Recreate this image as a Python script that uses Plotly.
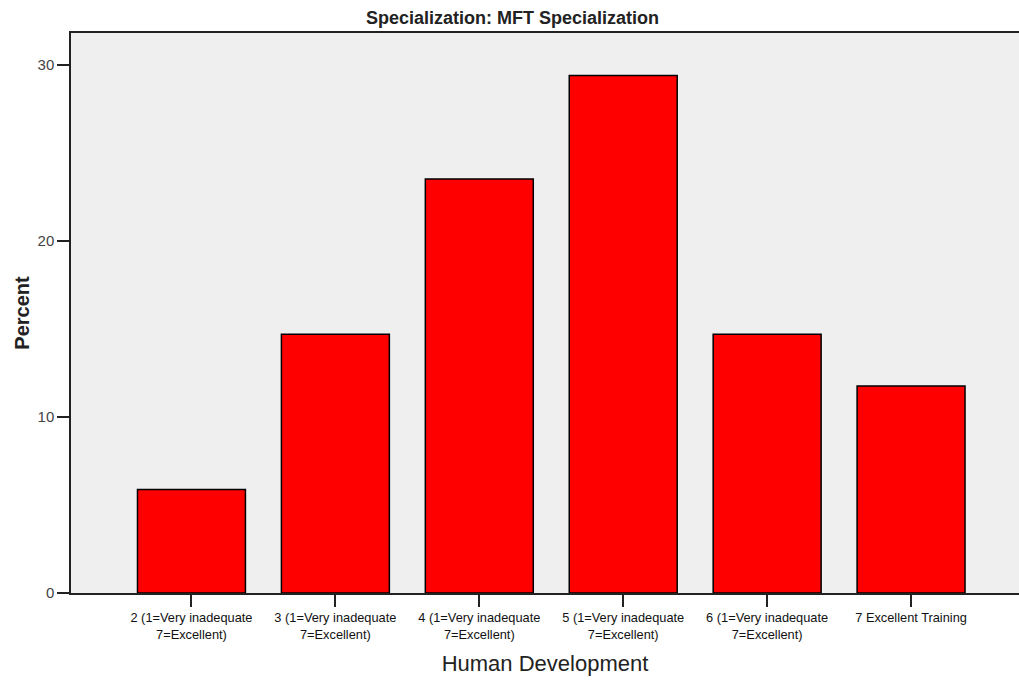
import plotly.graph_objects as go

categories = [
    "2 (1=Very inadequate<br>7=Excellent)",
    "3 (1=Very inadequate<br>7=Excellent)",
    "4 (1=Very inadequate<br>7=Excellent)",
    "5 (1=Very inadequate<br>7=Excellent)",
    "6 (1=Very inadequate<br>7=Excellent)",
    "7 Excellent Training",
]
percents = [5.88, 14.71, 23.53, 29.41, 14.71, 11.76]
y_ticks = [0, 10, 20, 30]

FONT = "Liberation Sans Narrow, Arial Narrow, Liberation Sans, Arial, sans-serif"

fig = go.Figure(
    go.Bar(
        x=list(range(len(categories))),
        y=percents,
        width=0.75,
        marker=dict(color="#FF0000", line=dict(color="#000000", width=1.5)),
        hoverinfo="y",
    )
)

fig.update_layout(
    width=1019,
    height=683,
    margin=dict(l=71, r=0, t=33, b=90),
    paper_bgcolor="white",
    plot_bgcolor="#EFEFEF",
    showlegend=False,
    title=dict(
        text="<b>Specialization: MFT Specialization</b>",
        x=0.503, xref="container", xanchor="center",
        y=0.974, yref="container", yanchor="middle",
        font=dict(family=FONT, size=18, color="#222222"),
    ),
    font=dict(family=FONT, color="#222222"),
)

fig.update_xaxes(
    tickmode="array",
    tickvals=list(range(len(categories))),
    ticktext=categories,
    range=[-0.837, 5.75],
    showline=True, linecolor="#222222", linewidth=1.5,
    mirror=True,
    ticks="outside", ticklen=12, tickwidth=1.5, tickcolor="#222222",
    showgrid=False, zeroline=False,
    tickfont=dict(family=FONT, size=12.8, color="#111111"),
    title=dict(text="Human Development", font=dict(family=FONT, size=22, color="#222222"), standoff=15),
)

fig.update_yaxes(
    range=[0, 31.83],
    tickmode="array",
    tickvals=y_ticks,
    showline=True, linecolor="#222222", linewidth=1.5,
    ticks="outside", ticklen=12, tickwidth=1.5, tickcolor="#222222",
    showgrid=False, zeroline=False,
    tickfont=dict(family=FONT, size=15, color="#444444"),
    title=dict(text="<b>Percent</b>", font=dict(family=FONT, size=20, color="#222222"), standoff=3),
)

fig.write_html(
    "out.html",
    config={"displayModeBar": False},
    post_script="document.body.style.margin='0';document.body.style.overflow='hidden';",
)
